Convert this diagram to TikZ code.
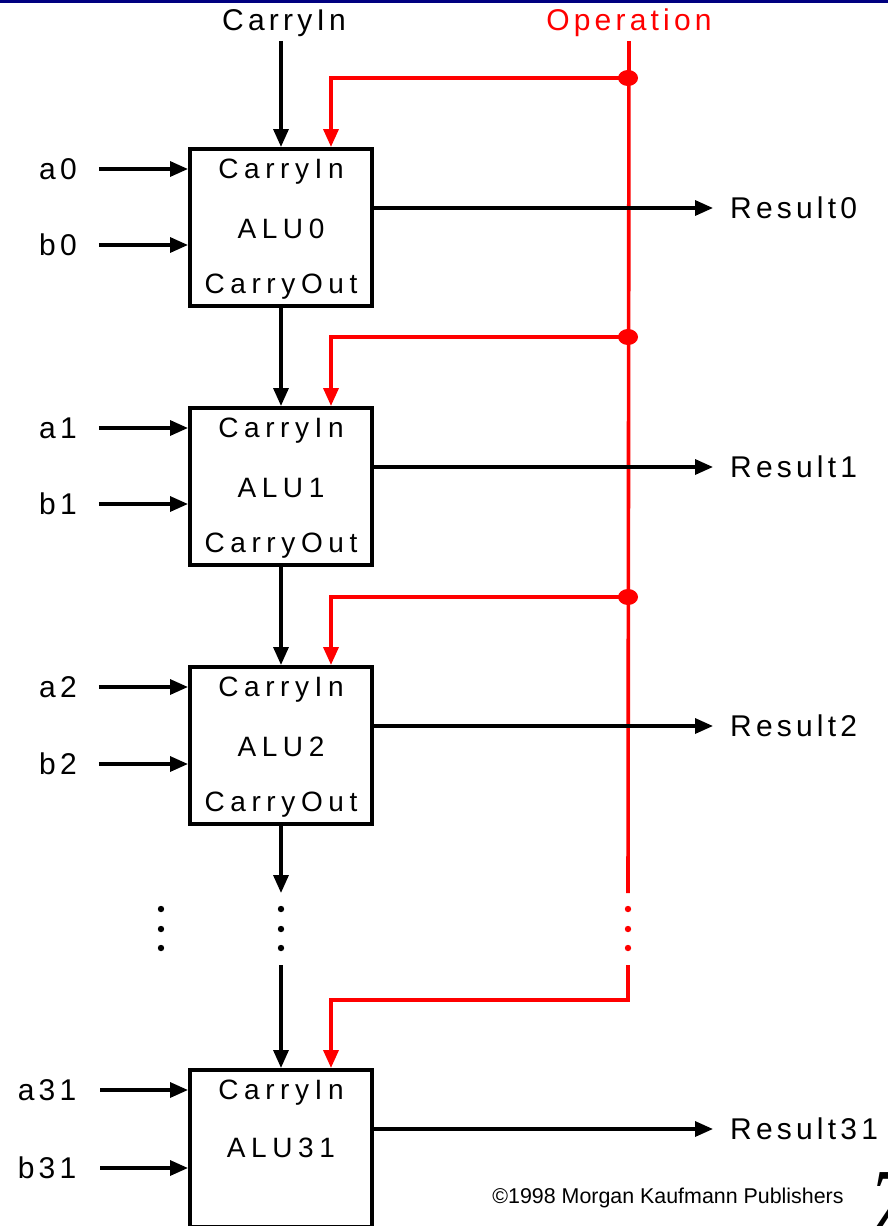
\documentclass[tikz,border=0pt]{standalone}
\usepackage{fontspec}
\setmainfont{Liberation Sans}
\newfontfamily\boxfont[LetterSpace=20]{Liberation Sans}
\newfontfamily\wordfont[LetterSpace=14]{Liberation Sans}
\newfontfamily\pagefont{Liberation Serif}
\usetikzlibrary{arrows.meta,positioning}
\definecolor{opred}{RGB}{255,0,0}
\definecolor{barblue}{RGB}{0,0,128}
\tikzset{
  alubox/.style={draw, line width=4pt, minimum width=182pt, minimum height=157pt, inner sep=0pt},
  intext/.style={inner sep=0pt, font=\boxfont\fontsize{28}{28}\selectfont},
  outtext/.style={inner sep=0pt, font=\wordfont\fontsize{30}{30}\selectfont},
  wire/.style={line width=3.3pt, -{Triangle[length=18pt,width=15pt]}},
  opline/.style={opred, line width=3.6pt},
  opwire/.style={opline, -{Triangle[length=18pt,width=15pt]}}
}
\begin{document}
\begin{tikzpicture}[x=1pt, y=-1pt]
		\useasboundingbox (0,0) rectangle (888,1226);
		\clip (0,0) rectangle (888,1226);
		\fill [barblue] (0,0) rectangle (888,3);

		\node [outtext](CarryTop)at (284,23) {CarryIn};
		\node [outtext, text=opred](Op)at (629,23) {Operation};

		\node [alubox](Alu0)at (281,227.5) {};
		\node [alubox](Alu1)at (281,486.5) {};
		\node [alubox](Alu2)at (281,745.5) {};
		\node [alubox](Alu31)at (281,1148.5) {};

		\node [intext](Alu0In)at ([yshift=-25pt]Alu0.north) {CarryIn};
		\node [intext](Alu0Name)at ([yshift=-1.5pt]Alu0.center) {ALU0};
		\node [intext](Alu0Out)at ([yshift=-140pt]Alu0.north) {CarryOut};
		\node [intext](Alu1In)at ([yshift=-25pt]Alu1.north) {CarryIn};
		\node [intext](Alu1Name)at ([yshift=-1.5pt]Alu1.center) {ALU1};
		\node [intext](Alu1Out)at ([yshift=-140pt]Alu1.north) {CarryOut};
		\node [intext](Alu2In)at ([yshift=-25pt]Alu2.north) {CarryIn};
		\node [intext](Alu2Name)at ([yshift=-1.5pt]Alu2.center) {ALU2};
		\node [intext](Alu2Out)at ([yshift=-140pt]Alu2.north) {CarryOut};
		\node [intext](Alu31In)at ([yshift=-25pt]Alu31.north) {CarryIn};
		\node [intext](Alu31Name)at ([yshift=-80pt]Alu31.north) {ALU31};

		\node [outtext](A0)at (58,169) {a0};
		\node [outtext](B0)at (58,245) {b0};
		\node [outtext](A1)at (58,428) {a1};
		\node [outtext](B1)at (58,504) {b1};
		\node [outtext](A2)at (58,687) {a2};
		\node [outtext](B2)at (58,764) {b2};
		\node [outtext](A31)at (47,1090) {a31};
		\node [outtext](B31)at (47,1168) {b31};

		\node [outtext, anchor=west](Res0)at (730,208) {Result0};
		\node [outtext, anchor=west](Res1)at (730,467) {Result1};
		\node [outtext, anchor=west](Res2)at (730,726) {Result2};
		\node [outtext, anchor=west](Res31)at (730,1129) {Result31};

		\node [inner sep=0pt, font=\fontsize{21.4}{21.4}\selectfont](Copy)at (668,1198) {©1998 Morgan Kaufmann Publishers};
		\node [inner sep=0pt, anchor=north west, font=\pagefont\itshape\fontsize{90}{90}\selectfont](PageNum)at (868,1172) {7};

		% operation bus
		\coordinate (Op0) at (628,78);
		\coordinate (Op1) at (628,337);
		\coordinate (Op2) at (628,597);
		\coordinate (OpGap) at (628,893);
		\coordinate (OpBack) at (628,965);
		\coordinate (Op31) at (628,1000);
		\draw [opline, shorten <=4pt](Op)--(OpGap);
		\draw [opwire](Op0) -| ([xshift=50pt]Alu0.north);
		\draw [opwire](Op1) -| ([xshift=50pt]Alu1.north);
		\draw [opwire](Op2) -| ([xshift=50pt]Alu2.north);
		\draw [opwire](OpBack) -- (Op31) -| ([xshift=50pt]Alu31.north);
		\fill [opred](Op0) ellipse [x radius=10pt, y radius=8pt];
		\fill [opred](Op1) ellipse [x radius=10pt, y radius=8pt];
		\fill [opred](Op2) ellipse [x radius=10pt, y radius=8pt];

		% carry chain
		\coordinate (CarryGap) at (281,893);
		\coordinate (CarryBack) at (281,965);
		\draw [wire, shorten <=4pt](Alu0 |- CarryTop.south)--(Alu0);
		\draw [wire](Alu0)--(Alu1);
		\draw [wire](Alu1)--(Alu2);
		\draw [wire](Alu2)--(CarryGap);
		\draw [wire](CarryBack)--(Alu31);

		% inputs
		\draw [wire]([xshift=22pt]A0.east)--(A0 -| Alu0.west);
		\draw [wire]([xshift=22pt]B0.east)--(B0 -| Alu0.west);
		\draw [wire]([xshift=22pt]A1.east)--(A1 -| Alu1.west);
		\draw [wire]([xshift=22pt]B1.east)--(B1 -| Alu1.west);
		\draw [wire]([xshift=22pt]A2.east)--(A2 -| Alu2.west);
		\draw [wire]([xshift=22pt]B2.east)--(B2 -| Alu2.west);
		\draw [wire](100,1090)--(A31 -| Alu31.west);
		\draw [wire](100,1168)--(B31 -| Alu31.west);

		% results
		\draw [wire](Res0 -| Alu0.east)--([xshift=-17pt]Res0.west);
		\draw [wire](Res1 -| Alu1.east)--([xshift=-17pt]Res1.west);
		\draw [wire](Res2 -| Alu2.east)--([xshift=-17pt]Res2.west);
		\draw [wire](Res31 -| Alu31.east)--([xshift=-17pt]Res31.west);

		% dots
		\fill (161,909) circle (3.2pt) (161,929) circle (3.2pt) (161,948) circle (3.2pt);
		\fill (281,909) circle (3.2pt) (281,929) circle (3.2pt) (281,948) circle (3.2pt);
		\fill [opred](628,909) circle (3.2pt) (628,929) circle (3.2pt) (628,948) circle (3.2pt);
	\end{tikzpicture}
\end{document}
